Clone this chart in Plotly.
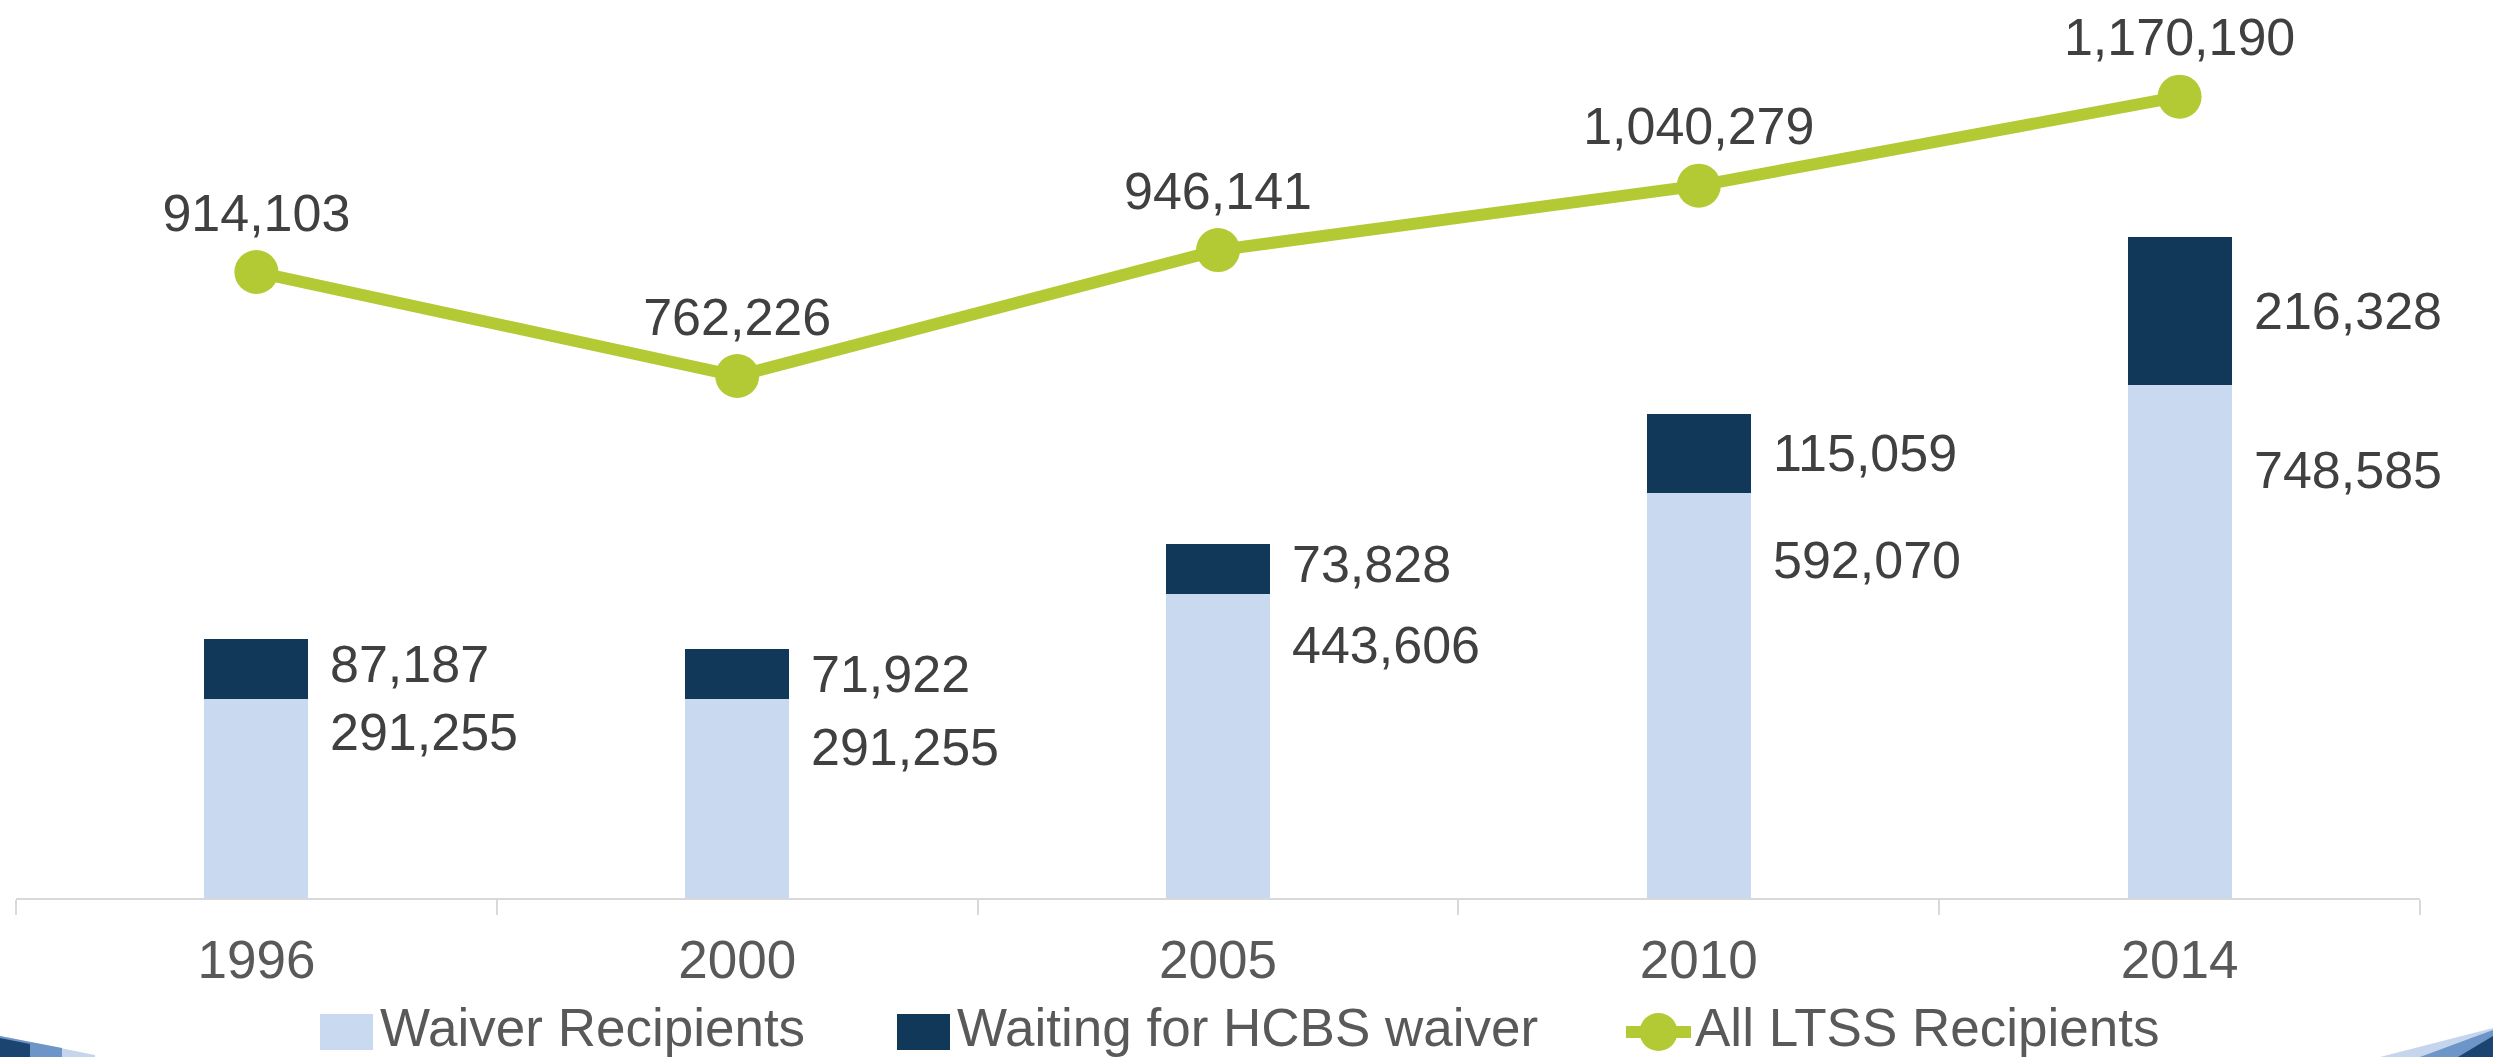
import plotly.graph_objects as go

years = ["1996", "2000", "2005", "2010", "2014"]
waiver = [291255, 291255, 443606, 592070, 748585]
waiting = [87187, 71922, 73828, 115059, 216328]
all_ltss = [914103, 762226, 946141, 1040279, 1170190]

LIGHT = "#C9D9EF"
NAVY = "#113858"
GREEN = "#B3CA35"
FONT = "Liberation Sans, Arial, sans-serif"

W, H = 2493, 1057
L, R, T, B = 16, 73, 0, 159
PW, PH = W - L - R, H - T - B


def px(x, y):
    # pixel -> paper coordinates (for legend / decoration only)
    return (x - L) / PW, (H - B - y) / PH


fig = go.Figure()

fig.add_trace(go.Bar(x=years, y=waiver, name="Waiver Recipients",
                     marker=dict(color=LIGHT, line_width=0), width=0.216))
fig.add_trace(go.Bar(x=years, y=waiting, name="Waiting for HCBS waiver",
                     marker=dict(color=NAVY, line_width=0), width=0.216))
fig.add_trace(go.Scatter(
    x=years, y=all_ltss, name="All LTSS Recipients",
    mode="lines+markers+text",
    line=dict(color=GREEN, width=12),
    marker=dict(color=GREEN, size=44),
    text=[f"{v:,}" for v in all_ltss],
    textposition="top center",
    textfont=dict(family=FONT, size=52, color="#404040"),
    cliponaxis=False,
))

# bar value labels, right of each bar (category axis -> annotation x is the index)
for i, yr in enumerate(years):
    fig.add_annotation(x=i, y=waiver[i] + waiting[i] / 2, text=f"{waiting[i]:,}",
                       xanchor="left", yanchor="middle", xshift=72,
                       yshift=5 if yr in ("1996", "2005") else 0, showarrow=False,
                       font=dict(family=FONT, size=52, color="#404040"))
    fig.add_annotation(x=i, y=waiver[i] * 0.834, text=f"{waiver[i]:,}",
                       xanchor="left", yanchor="middle", xshift=72,
                       yshift=-15 if yr == "2000" else 0, showarrow=False,
                       font=dict(family=FONT, size=52, color="#404040"))

shapes = []
# manual legend
leg_font = dict(family=FONT, size=53, color="#595959")
for x0, color, label in [(320, LIGHT, "Waiver Recipients"),
                         (897, NAVY, "Waiting for HCBS waiver")]:
    a = px(x0, 1014)
    b = px(x0 + 53, 1050)
    shapes.append(dict(type="rect", xref="paper", yref="paper", x0=a[0], y0=b[1],
                       x1=b[0], y1=a[1], fillcolor=color, line_width=0))
    tx, ty = px(x0 + 58, 1027)
    fig.add_annotation(xref="paper", yref="paper", x=tx, y=ty, text=label,
                       xanchor="left", yanchor="middle", showarrow=False, font=leg_font)
a = px(1626, 1032)
b = px(1691, 1032)
shapes.append(dict(type="line", xref="paper", yref="paper", x0=a[0], y0=a[1],
                   x1=b[0], y1=b[1], line=dict(color=GREEN, width=12)))
a = px(1639.5, 1013)
b = px(1677.5, 1051)
shapes.append(dict(type="circle", xref="paper", yref="paper", x0=a[0], y0=b[1],
                   x1=b[0], y1=a[1], fillcolor=GREEN, line_width=0))
tx, ty = px(1693, 1027)
fig.add_annotation(xref="paper", yref="paper", x=tx, y=ty, text="All LTSS Recipients",
                   xanchor="left", yanchor="middle", showarrow=False, font=leg_font)

# corner decorations from the slide template
def poly(points, color):
    pts = [px(x, y) for x, y in points]
    path = "M " + " L ".join(f"{p[0]},{p[1]}" for p in pts) + " Z"
    return dict(type="path", xref="paper", yref="paper", path=path,
                fillcolor=color, line_width=0, layer="above")

shapes.append(poly([(0, 1036), (95, 1055), (95, 1057), (0, 1057)], "#C5D5EC"))
shapes.append(poly([(0, 1036), (62, 1048), (62, 1057), (0, 1057)], "#6E95C8"))
shapes.append(poly([(0, 1038), (30, 1044), (30, 1057), (0, 1057)], "#1C4470"))
shapes.append(poly([(2380, 1057), (2493, 1028), (2493, 1057)], "#C5D5EC"))
shapes.append(poly([(2420, 1057), (2493, 1030), (2493, 1057)], "#6E95C8"))
shapes.append(poly([(2458, 1057), (2493, 1036), (2493, 1057)], "#1C4470"))

fig.update_layout(
    width=W, height=H,
    margin=dict(l=L, r=R, t=T, b=B),
    barmode="stack",
    showlegend=False,
    plot_bgcolor="white",
    paper_bgcolor="white",
    shapes=shapes,
    font=dict(family=FONT, color="#595959"),
    xaxis=dict(
        type="category", range=[-0.5, 4.5],
        showgrid=False, zeroline=False,
        showline=True, linecolor="#D9D9D9", linewidth=2,
        ticks="outside", tickson="boundaries", ticklen=15,
        tickcolor="#D9D9D9", tickwidth=2, ticklabelstandoff=14,
        tickfont=dict(family=FONT, size=53, color="#595959"),
    ),
    yaxis=dict(visible=False, range=[0, 1311350], showgrid=False, zeroline=False),
)

fig.write_html("out.html", config={"displayModeBar": False},
               post_script="document.body.style.margin='0';document.body.style.overflow='hidden';")
